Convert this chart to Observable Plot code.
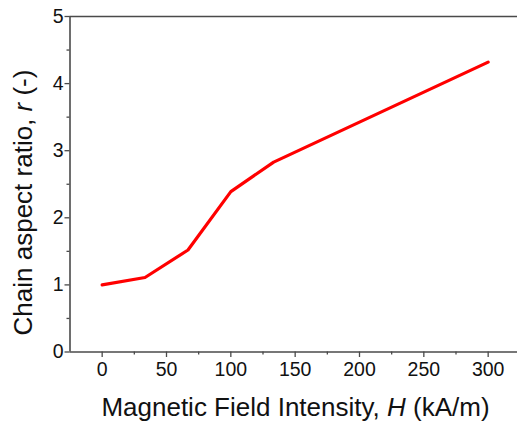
<!DOCTYPE html>
<html><head><meta charset="utf-8">
<script src="https://cdn.jsdelivr.net/npm/d3@7"></script>
<script src="https://cdn.jsdelivr.net/npm/@observablehq/plot@0.6"></script>
<style>body{margin:0;background:#fff;font-family:"Liberation Sans",Arial,sans-serif}</style>
</head><body><div id="chart"></div>
<script>
const fieldH = [0, 33.3, 66.7, 100, 133.3, 300];
const ratioR = [1.0, 1.11, 1.52, 2.39, 2.83, 4.32];
const xTicks = [0, 50, 100, 150, 200, 250, 300];
const xMinor = [25, 75, 125, 175, 225, 275];
const yTicks = [0, 1, 2, 3, 4, 5];
const yMinor = [0.5, 1.5, 2.5, 3.5, 4.5];

const data = fieldH.map((h, i) => ({h, r: ratioR[i]}));
const W = 517, Ht = 423, mL = 69.5, mT = 16, mB = 71.5, mR = 0;
const axisCol = "#4a4a4a";
const font = "Liberation Sans, Arial, sans-serif";

const plot = Plot.plot({
  width: W, height: Ht,
  marginLeft: mL, marginRight: mR, marginTop: mT, marginBottom: mB,
  style: {fontFamily: font, fontSize: "19.5px", background: "white", overflow: "visible", color: "#111"},
  x: {domain: [-25, 322.8]},
  y: {domain: [0, 5]},
  marks: [
    Plot.axisX(xTicks, {tickSize: 5.5, tickPadding: 5, stroke: axisCol, strokeWidth: 1.3, fontSize: 19.5, fill: "#111", label: null}),
    Plot.axisX(xMinor, {tickSize: 3, text: null, stroke: axisCol, strokeWidth: 1.3, label: null}),
    Plot.axisY(yTicks, {tickSize: 5, tickPadding: 1.5, stroke: axisCol, strokeWidth: 1.3, fontSize: 19.5, fill: "#111", tickFormat: d3.format("d"), label: null}),
    Plot.axisY(yMinor, {tickSize: 3, text: null, stroke: axisCol, strokeWidth: 1.3, label: null}),
    Plot.ruleY([0], {stroke: axisCol, strokeWidth: 1.6}),
    Plot.ruleY([5], {stroke: axisCol, strokeWidth: 1.6}),
    Plot.ruleX([-25], {stroke: axisCol, strokeWidth: 1.6}),
    Plot.line(data, {x: "h", y: "r", stroke: "#ff0000", strokeWidth: 3.2})
  ]
});
document.getElementById("chart").appendChild(plot);

const svg = d3.select(plot);
const xl = svg.append("text")
  .attr("x", 295.5).attr("y", 416)
  .attr("text-anchor", "middle").attr("font-size", 26).attr("fill", "#111")
  .attr("font-family", font);
xl.append("tspan").text("Magnetic Field Intensity, ");
xl.append("tspan").attr("font-style", "italic").text("H");
xl.append("tspan").text(" (kA/m)");

const yl = svg.append("text")
  .attr("transform", "translate(32,202.5) rotate(-90)")
  .attr("text-anchor", "middle").attr("font-size", 26).attr("fill", "#111")
  .attr("font-family", font);
yl.append("tspan").text("Chain aspect ratio, ");
yl.append("tspan").attr("font-style", "italic").text("r");
yl.append("tspan").text(" (-)");
</script>
</body></html>
